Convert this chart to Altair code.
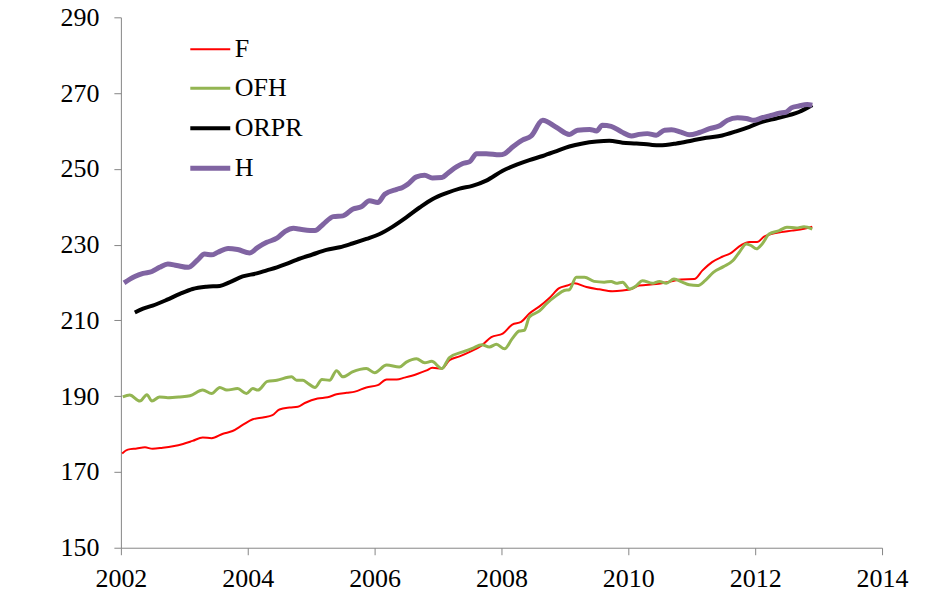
import altair as alt
import pandas as pd

series_names = ["F", "OFH", "ORPR", "H"]
series_colors = ["#FF0000", "#93B552", "#000000", "#8064A2"]
series_widths = [2, 5, 3, 5]

x_ticks = [2002, 2004, 2006, 2008, 2010, 2012, 2014]
y_ticks = [150, 170, 190, 210, 230, 250, 270, 290]

f_years = [2002.02, 2002.11, 2002.25, 2002.38, 2002.50, 2002.66, 2002.82, 2002.98, 2003.13, 2003.29,
           2003.43, 2003.61, 2003.76, 2003.92, 2004.08, 2004.24, 2004.39, 2004.50, 2004.66, 2004.79,
           2004.90, 2005.10, 2005.26, 2005.40, 2005.56, 2005.69, 2005.87, 2006.05, 2006.19, 2006.35,
           2006.47, 2006.66, 2006.82, 2006.91, 2007.06, 2007.18, 2007.34, 2007.50, 2007.69, 2007.84,
           2008.02, 2008.17, 2008.31, 2008.44, 2008.60, 2008.76, 2008.91, 2009.04, 2009.15, 2009.34,
           2009.54, 2009.75, 2009.91, 2010.05, 2010.17, 2010.44, 2010.68, 2010.83, 2011.04, 2011.17,
           2011.32, 2011.48, 2011.61, 2011.78, 2011.91, 2012.03, 2012.14, 2012.25, 2012.41, 2012.58,
           2012.77, 2012.90]
f_values = [174.9, 175.9, 176.2, 176.5, 176.1, 176.4, 176.8, 177.4, 178.2, 179.1,
            178.9, 180.1, 180.8, 182.4, 183.9, 184.4, 185.0, 186.5, 187.0, 187.2,
            188.2, 189.4, 189.7, 190.5, 190.9, 191.2, 192.3, 192.9, 194.4, 194.4,
            194.9, 195.8, 196.8, 197.5, 197.3, 199.5, 200.5, 201.7, 203.4, 205.6,
            206.5, 208.9, 209.6, 211.8, 213.7, 216.0, 218.5, 219.2, 219.8, 218.8,
            218.2, 217.7, 217.9, 218.3, 219.2, 219.6, 220.3, 220.8, 220.9, 223.2,
            225.4, 226.8, 227.7, 229.9, 230.7, 230.7, 232.1, 232.8, 233.3, 233.7,
            234.2, 234.7]

ofh_years = [2002.03, 2002.14, 2002.30, 2002.41, 2002.49, 2002.61, 2002.74, 2002.93, 2003.09, 2003.29,
             2003.43, 2003.56, 2003.67, 2003.84, 2003.98, 2004.08, 2004.16, 2004.31, 2004.46, 2004.69,
             2004.77, 2004.87, 2004.94, 2005.06, 2005.17, 2005.29, 2005.40, 2005.50, 2005.65, 2005.87,
             2006.00, 2006.19, 2006.39, 2006.50, 2006.66, 2006.79, 2006.90, 2007.06, 2007.18, 2007.39,
             2007.54, 2007.69, 2007.81, 2007.92, 2008.05, 2008.17, 2008.28, 2008.36, 2008.44, 2008.60,
             2008.71, 2008.87, 2008.99, 2009.07, 2009.18, 2009.31, 2009.46, 2009.62, 2009.73, 2009.81,
             2009.91, 2010.02, 2010.13, 2010.22, 2010.38, 2010.49, 2010.60, 2010.72, 2010.85, 2010.96,
             2011.09, 2011.21, 2011.34, 2011.50, 2011.65, 2011.75, 2011.86, 2011.94, 2012.02, 2012.11,
             2012.22, 2012.38, 2012.50, 2012.65, 2012.77, 2012.90]
ofh_values = [189.8, 190.3, 188.7, 190.4, 188.7, 189.8, 189.6, 189.8, 190.1, 191.6,
              190.7, 192.3, 191.6, 192.0, 190.7, 192.0, 191.6, 193.9, 194.2, 195.1,
              194.2, 194.2, 193.5, 192.3, 194.4, 194.2, 196.7, 195.1, 196.4, 197.3,
              196.2, 198.2, 197.7, 199.0, 199.9, 198.8, 199.2, 197.3, 200.2, 201.7,
              202.6, 203.6, 203.0, 203.7, 202.5, 205.2, 207.2, 207.4, 210.9, 212.5,
              214.4, 216.6, 217.9, 218.1, 221.4, 221.4, 220.3, 220.1, 220.3, 219.8,
              220.1, 218.3, 219.2, 220.5, 219.8, 220.3, 219.8, 220.9, 220.1, 219.4,
              219.2, 220.5, 222.7, 224.2, 225.8, 228.0, 230.2, 229.7, 228.9, 230.2,
              232.8, 233.7, 234.6, 234.4, 234.7, 234.1]

orpr_years = [2002.22, 2002.35, 2002.50, 2002.72, 2002.93, 2003.13, 2003.35, 2003.56, 2003.72, 2003.92,
              2004.14, 2004.30, 2004.46, 2004.61, 2004.77, 2005.02, 2005.24, 2005.45, 2005.65, 2005.87,
              2006.08, 2006.28, 2006.50, 2006.71, 2006.91, 2007.13, 2007.34, 2007.54, 2007.76, 2008.02,
              2008.24, 2008.44, 2008.65, 2008.87, 2009.07, 2009.28, 2009.50, 2009.70, 2009.91, 2010.13,
              2010.33, 2010.49, 2010.76, 2011.01, 2011.23, 2011.48, 2011.70, 2011.91, 2012.11, 2012.33,
              2012.54, 2012.69, 2012.82, 2012.90]
orpr_values = [212.1, 213.1, 213.9, 215.4, 217.0, 218.3, 218.9, 219.1, 220.1, 221.6,
               222.4, 223.2, 224.0, 224.9, 226.0, 227.4, 228.6, 229.3, 230.3, 231.5,
               232.8, 234.7, 237.2, 239.8, 242.0, 243.6, 244.8, 245.5, 246.9, 249.5,
               251.1, 252.3, 253.4, 254.7, 255.9, 256.7, 257.2, 257.4, 256.9, 256.7,
               256.4, 256.2, 256.7, 257.5, 258.2, 258.8, 259.9, 261.1, 262.4, 263.3,
               264.2, 265.0, 266.1, 266.8]

h_years = [2002.05, 2002.22, 2002.35, 2002.49, 2002.61, 2002.74, 2002.88, 2003.06, 2003.20, 2003.32,
           2003.43, 2003.53, 2003.69, 2003.84, 2004.03, 2004.16, 2004.30, 2004.46, 2004.59, 2004.72,
           2004.85, 2005.06, 2005.19, 2005.35, 2005.50, 2005.66, 2005.79, 2005.92, 2006.05, 2006.16,
           2006.35, 2006.44, 2006.52, 2006.66, 2006.79, 2006.91, 2007.06, 2007.15, 2007.29, 2007.39,
           2007.50, 2007.61, 2007.76, 2007.97, 2008.05, 2008.17, 2008.33, 2008.47, 2008.65, 2008.87,
           2009.07, 2009.20, 2009.39, 2009.50, 2009.59, 2009.73, 2009.89, 2010.05, 2010.17, 2010.30,
           2010.44, 2010.57, 2010.68, 2010.83, 2010.96, 2011.12, 2011.28, 2011.43, 2011.56, 2011.72,
           2011.86, 2011.98, 2012.11, 2012.25, 2012.38, 2012.49, 2012.57, 2012.69, 2012.82, 2012.90]
h_values = [219.9, 221.6, 222.4, 222.9, 224.0, 224.9, 224.5, 224.0, 225.8, 227.5,
            227.3, 228.0, 229.0, 228.7, 227.8, 229.3, 230.6, 231.7, 233.5, 234.3,
            234.0, 233.7, 235.4, 237.4, 237.6, 239.4, 240.0, 241.6, 241.1, 243.3,
            244.6, 245.1, 245.9, 247.9, 248.3, 247.6, 247.7, 248.8, 250.5, 251.4,
            251.9, 254.0, 254.0, 253.7, 254.0, 255.7, 257.6, 258.7, 262.8, 260.9,
            259.1, 260.2, 260.4, 260.0, 261.5, 261.2, 259.8, 258.7, 259.1, 259.3,
            258.9, 260.2, 260.3, 259.7, 259.0, 259.6, 260.6, 261.3, 262.8, 263.5,
            263.3, 262.8, 263.5, 264.1, 264.7, 265.0, 266.1, 266.6, 267.0, 266.8]

frames = []
for name, yrs, vals in [("F", f_years, f_values), ("OFH", ofh_years, ofh_values),
                        ("ORPR", orpr_years, orpr_values), ("H", h_years, h_values)]:
    frames.append(pd.DataFrame({"year": yrs, "value": vals, "series": name}))
df = pd.concat(frames, ignore_index=True)

FONT = "Liberation Serif"
AXIS_GRAY = "#868686"
FS = 26

legend_cfg = dict(title=None, orient="none", legendX=67, legendY=11,
                  symbolType="stroke", symbolSize=1600,
                  labelFont=FONT, labelFontSize=FS, labelColor="#000000",
                  labelOffset=2, rowPadding=4.5)

chart = alt.Chart(df).mark_line(interpolate="monotone").encode(
    x=alt.X("year:Q",
            scale=alt.Scale(domain=[2002, 2014], nice=False, zero=False),
            axis=alt.Axis(values=x_ticks, format="d", title=None, grid=False,
                          domainColor=AXIS_GRAY, tickColor=AXIS_GRAY, tickSize=7,
                          labelFont=FONT, labelFontSize=FS, labelColor="#000000",
                          labelPadding=11, labelFlush=False)),
    y=alt.Y("value:Q",
            scale=alt.Scale(domain=[150, 290], nice=False, zero=False),
            axis=alt.Axis(values=y_ticks, format="d", title=None, grid=False,
                          domainColor=AXIS_GRAY, tickColor=AXIS_GRAY, tickSize=7,
                          labelFont=FONT, labelFontSize=FS, labelColor="#000000",
                          labelPadding=15)),
    color=alt.Color("series:N",
                    scale=alt.Scale(domain=series_names, range=series_colors),
                    sort=series_names,
                    legend=alt.Legend(**legend_cfg)),
    strokeWidth=alt.StrokeWidth("series:N",
                                scale=alt.Scale(domain=series_names, range=series_widths),
                                sort=series_names,
                                legend=alt.Legend(**legend_cfg)),
    detail="series:N",
).properties(
    width=762,
    height=531,
    padding={"left": 113, "top": 9, "right": 35, "bottom": 50},
    autosize=alt.AutoSizeParams(type="none"),
).configure_view(stroke=None)

chart.save("out.html", embed_options={"renderer": "svg", "actions": False})
